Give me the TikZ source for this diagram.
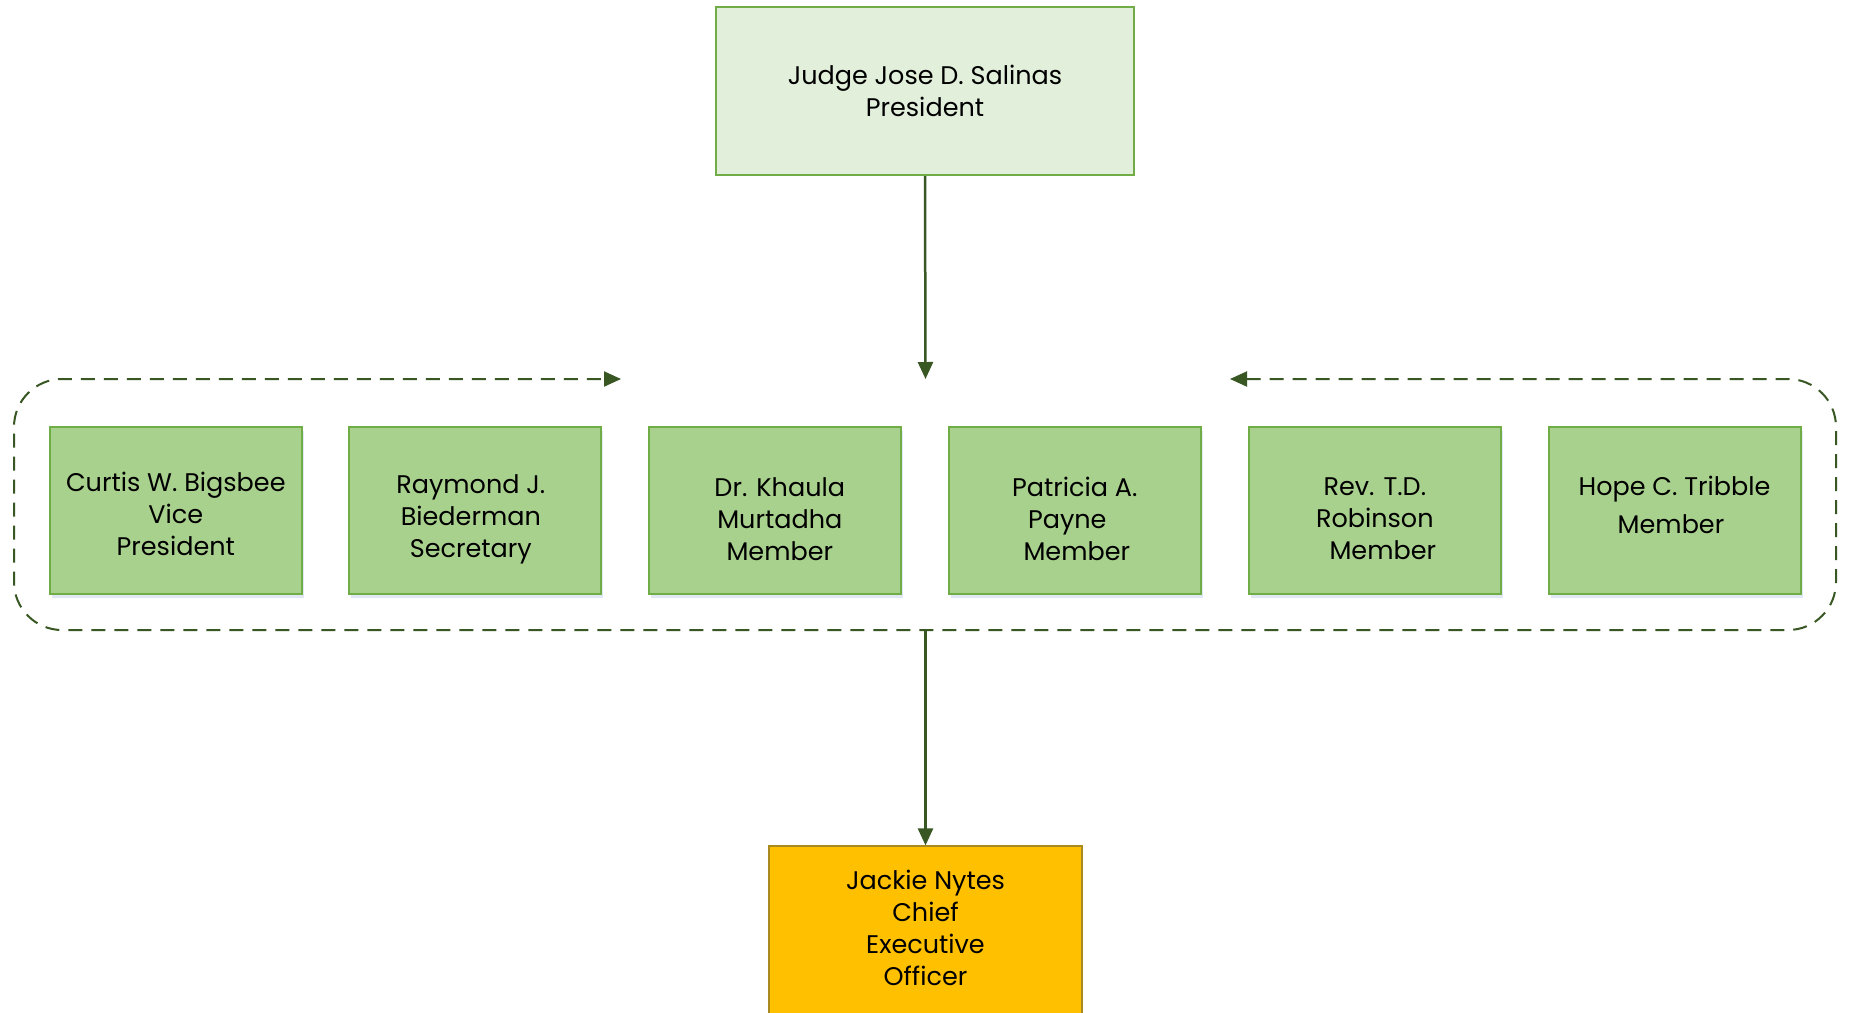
\documentclass[tikz,border=0pt]{standalone}
\usepackage{fontspec}
\setmainfont{Poppins}
\usetikzlibrary{arrows.meta,shadows}
\definecolor{conn}{HTML}{385723}
\definecolor{boxline}{HTML}{70AD47}
\definecolor{memfill}{HTML}{A9D18E}
\definecolor{topfill}{HTML}{E2EFDA}
\definecolor{ceofill}{HTML}{FFC000}
\definecolor{ceoline}{HTML}{A88A1E}
\definecolor{shadowblue}{HTML}{C5D3EC}
\newcommand{\hs}[1]{\hspace*{#1}}
\newcommand{\ts}[1]{\hspace*{#1}\mbox{}}
\begin{document}
\begin{tikzpicture}[x=1pt,y=-1pt,
  txt/.style={align=center, inner sep=0pt, text=black, font=\fontsize{25.5}{32}\selectfont},
  member/.style={txt, draw=boxline, fill=memfill, line width=2pt, minimum width=252pt, minimum height=167pt,
    drop shadow={shadow xshift=2pt, shadow yshift=-4pt, fill=shadowblue, opacity=0.5}},
  topbox/.style={txt, draw=boxline, fill=topfill, line width=2pt, minimum width=418pt, minimum height=168pt},
  ceobox/.style={txt, draw=ceoline, fill=ceofill, line width=1.2pt, minimum width=313pt, minimum height=180pt},
  conline/.style={draw=conn, line width=2.5pt, -{Triangle[length=17pt,width=15pt]}},
  frameline/.style={draw=conn, line width=2pt, dash pattern=on 14pt off 9pt, rounded corners=48pt,
    {Triangle[length=17pt,width=15pt]}-{Triangle[length=17pt,width=15pt]}}
  ]
\useasboundingbox (0,0) rectangle (1849,1012);
\clip (0,0) rectangle (1849,1012);
\fill[white] (0,0) rectangle (1849,1012);

\node[topbox] (pres) at (925,91) {Judge Jose D. Salinas\\President};

\node[member] (m1) at (175.8,510.5) {\mbox{}\\[-5pt]Curtis W. Bigsbee\\Vice\\President};
\node[member] (m2) at (475.3,510.5) {\mbox{}\\[4.5pt]Raymond J.\ts{9pt}\\Biederman\ts{9pt}\\Secretary\ts{9pt}};
\node[member] (m3) at (775.3,510.5) {\mbox{}\\[4.5pt]\hs{9pt}Dr. Khaula\\\hs{9pt}Murtadha\\\hs{9pt}Member};
\node[member] (m4) at (1074.8,510.5) {\mbox{}\\[4pt]Patricia A.\\Payne\ts{15pt}\\\hs{4pt}Member};
\node[member] (m5) at (1374.8,510.5) {\mbox{}\\[2pt]Rev. T.D.\\Robinson\\\hs{16pt}Member};
\node[member] (m6) at (1674.5,510.5) {Hope C. Tribble\\[6pt]Member\ts{7pt}\\[-20pt]\mbox{}};

\node[ceobox] (ceo) at (925.5,936) {Jackie Nytes\\Chief\\Executive\\Officer\\[-15pt]\mbox{}};

\coordinate (ftop) at (925.5,379);
\coordinate (fbot) at (925.5,630);
\coordinate (fl) at (621,379);
\coordinate (fr) at (1230,379);

\draw[frameline] (fr) -- (1836,379) -- (1836,630) -- (14,630) -- (14,379) -- (fl);

\draw[conline] (pres.south) -- (ftop);
\draw[conline] (fbot) -- (ceo.north);
\end{tikzpicture}
\end{document}
